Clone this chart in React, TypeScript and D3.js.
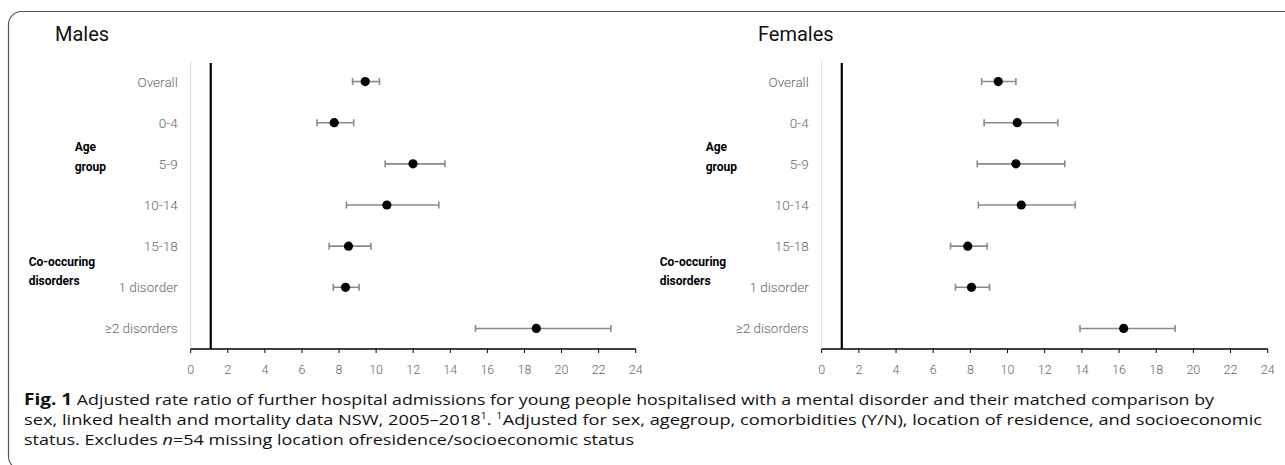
import * as d3 from "d3"

const categories = ["Overall", "0-4", "5-9", "10-14", "15-18", "1 disorder", "≥2 disorders"]

// males: adjusted rate ratio with 95% CI
const maleRR = [9.41, 7.74, 11.99, 10.58, 8.51, 8.35, 18.64]
const maleLow = [8.73, 6.81, 10.49, 8.4, 7.47, 7.69, 15.36]
const maleHigh = [10.18, 8.79, 13.71, 13.38, 9.72, 9.08, 22.66]

// females
const femaleRR = [9.5, 10.52, 10.45, 10.74, 7.86, 8.06, 16.25]
const femaleLow = [8.61, 8.74, 8.37, 8.43, 6.93, 7.2, 13.9]
const femaleHigh = [10.45, 12.71, 13.08, 13.64, 8.9, 9.03, 19.02]

const xTicks = [0, 2, 4, 6, 8, 10, 12, 14, 16, 18, 20, 22, 24]
const refValue = 1

const W = 1285
const H = 465
const plotTop = 61
const plotBottom = 349

interface PanelProps {
  title: string
  titleX: number
  x0: number
  x1: number
  rr: number[]
  low: number[]
  high: number[]
}

function Panel({ title, titleX, x0, x1, rr, low, high }: PanelProps) {
  const x = d3.scaleLinear().domain([0, 24]).range([x0, x1])
  const y = d3.scaleBand().domain(categories).range([plotTop, plotBottom])
  const cy = (c: string) => (y(c) ?? 0) + y.bandwidth() / 2

  return (
    <g>
      <text x={titleX} y={41} fontSize={20} fill="#111" fontFamily="Roboto, sans-serif">
        {title}
      </text>

      {/* light y axis */}
      <line x1={x(0)} x2={x(0)} y1={plotTop} y2={plotBottom} stroke="#d9d9d9" strokeWidth={1} />

      {/* reference line */}
      <line x1={x(refValue) + 1.5} x2={x(refValue) + 1.5} y1={plotTop + 2} y2={plotBottom} stroke="#000" strokeWidth={2.2} />

      {/* category labels */}
      {categories.map(c => (
        <text key={c} x={x(0) - 13} y={cy(c) + 5} textAnchor="end" fontSize={13.5} fill="#666"
          fontFamily="Roboto, sans-serif" fontWeight={300}>
          {c}
        </text>
      ))}

      {/* group labels */}
      <g fontFamily="Roboto, sans-serif" fontWeight={700} fontSize={12} fill="#000">
        <text x={x(0) - 116} y={151}>Age</text>
        <text x={x(0) - 116} y={171}>group</text>
        <text x={x(0) - 162} y={266}>Co-occuring</text>
        <text x={x(0) - 162} y={285}>disorders</text>
      </g>

      {/* error bars */}
      {categories.map((c, i) => (
        <g key={c} stroke="#8a8a8a" strokeWidth={1.6}>
          <line x1={x(low[i])} x2={x(high[i])} y1={cy(c)} y2={cy(c)} />
          <line x1={x(low[i])} x2={x(low[i])} y1={cy(c) - 3.5} y2={cy(c) + 3.5} />
          <line x1={x(high[i])} x2={x(high[i])} y1={cy(c) - 3.5} y2={cy(c) + 3.5} />
        </g>
      ))}

      {/* points */}
      {categories.map((c, i) => (
        <circle key={c} cx={x(rr[i])} cy={cy(c)} r={4.6} fill="#000" />
      ))}

      {/* x axis */}
      <line x1={x(0)} x2={x(24)} y1={plotBottom} y2={plotBottom} stroke="#000" strokeWidth={1.5} />
      {xTicks.map(t => (
        <g key={t}>
          <line x1={x(t)} x2={x(t)} y1={plotBottom} y2={plotBottom + 4} stroke="#000" strokeWidth={1} />
          <text x={x(t)} y={374} textAnchor="middle" fontSize={12.5} fill="#666"
            fontFamily="Roboto, sans-serif" fontWeight={300}>
            {t}
          </text>
        </g>
      ))}
    </g>
  )
}

export default function App() {
  return (
    <div style={{ position: "fixed", left: 0, top: 0, width: W, height: H, background: "#fff" }}>
      <svg width={W} height={H} style={{ display: "block" }}>
        <rect x={8.5} y={11.5} width={1300} height={458} rx={13} fill="none" stroke="#555" strokeWidth={1.2} />

        <Panel title="Males" titleX={55} x0={190.7} x1={635.7} rr={maleRR} low={maleLow} high={maleHigh} />
        <Panel title="Females" titleX={758} x0={821.7} x1={1267.7} rr={femaleRR} low={femaleLow} high={femaleHigh} />

        <g fontFamily="'Open Sans', sans-serif" fontSize={15} fill="#111">
          <text x={24} y={405} textLength={1190} lengthAdjust="spacingAndGlyphs">
            <tspan fontWeight={700} fontSize={16}>Fig. 1</tspan>
            <tspan>{"  Adjusted rate ratio of further hospital admissions for young people hospitalised with a mental disorder and their matched comparison by"}</tspan>
          </text>
          <text x={24} y={425} textLength={1238} lengthAdjust="spacingAndGlyphs">
            <tspan>sex, linked health and mortality data NSW, 2005–2018</tspan>
            <tspan fontSize={9} dy={-6}>1</tspan>
            <tspan dy={6}>. </tspan>
            <tspan fontSize={9} dy={-6}>1</tspan>
            <tspan dy={6}>Adjusted for sex, agegroup, comorbidities (Y/N), location of residence, and socioeconomic</tspan>
          </text>
          <text x={24} y={445} textLength={610} lengthAdjust="spacingAndGlyphs">
            <tspan>{"status.  Excludes "}</tspan>
            <tspan fontStyle="italic">n</tspan>
            <tspan>=54 missing location ofresidence/socioeconomic status</tspan>
          </text>
        </g>
      </svg>
    </div>
  )
}
